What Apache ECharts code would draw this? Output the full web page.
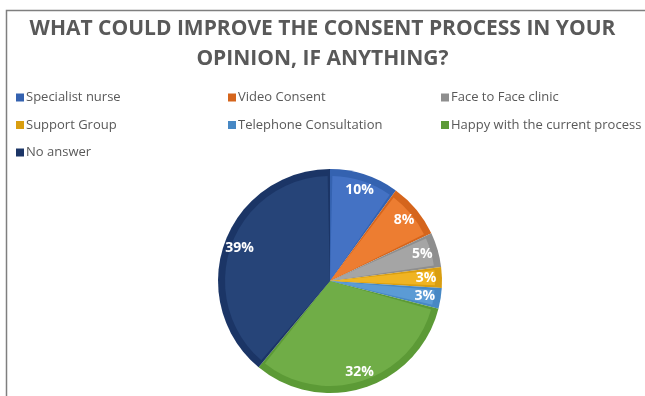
<!DOCTYPE html>
<html>
<head>
<meta charset="utf-8">
<script src="https://cdn.jsdelivr.net/npm/echarts@6/dist/echarts.min.js"></script>
<style>html,body{margin:0;padding:0;background:#fff}#c{width:645px;height:396px}</style>
</head>
<body>
<div id="c"></div>
<script>
var titleText = 'WHAT COULD IMPROVE THE CONSENT PROCESS IN YOUR\nOPINION, IF ANYTHING?';
var categories = ['Specialist nurse', 'Video Consent', 'Face to Face clinic', 'Support Group', 'Telephone Consultation', 'Happy with the current process', 'No answer'];
var values = [10, 8, 5, 3, 3, 32, 39];
var colors = ['#4472C4', '#ED7D31', '#A5A5A5', '#F0B422', '#5B9BD5', '#70AD47', '#264478'];
var rimColors = ['#3462B0', '#D5651C', '#8E8E8E', '#D99E10', '#4788C4', '#5C9A36', '#1B3566'];
var legendCols = [
  ['Specialist nurse', 'Support Group', 'No answer'],
  ['Video Consent', 'Telephone Consultation'],
  ['Face to Face clinic', 'Happy with the current process']
];

var chart = echarts.init(document.getElementById('c'), null, {renderer: 'canvas'});
var font = '"Open Sans", sans-serif';
function mk(col) { return categories.map(function (n, i) { return {name: n, value: values[i], itemStyle: {color: col[i]}}; }); }
var legendLeft = [11, 223, 436];
var legends = legendCols.map(function (d, k) {
  return {
    data: d, orient: 'vertical', left: legendLeft[k], top: 86, itemGap: 14.5,
    itemWidth: 8, itemHeight: 8, icon: 'rect', selectedMode: false,
    textStyle: {fontFamily: font, fontSize: 13, color: '#595959', padding: [0, 0, 0, -3]}
  };
});
chart.setOption({
  animation: false,
  title: {
    text: titleText, left: 'center', top: 9, itemGap: 0,
    textStyle: {fontFamily: font, fontSize: 21, fontWeight: 'bold', color: '#595959', lineHeight: 30}
  },
  legend: legends,
  graphic: [{
    type: 'rect', shape: {x: 6.5, y: 10.5, width: 800, height: 600},
    style: {fill: null, stroke: '#7f7f7f', lineWidth: 1.5}, silent: true
  }],
  series: [
    {
      type: 'pie', center: [330, 281], radius: [0, 112], startAngle: 90, clockwise: true,
      data: mk(rimColors), label: {show: false}, labelLine: {show: false}, silent: true
    },
    {
      type: 'pie', center: [330, 281], radius: [0, 105], startAngle: 90, clockwise: true, padAngle: 2.6,
      data: mk(colors), label: {show: false}, labelLine: {show: false}, silent: true
    },
    {
      type: 'pie', center: [330, 281], radius: [74, 112], startAngle: 90, clockwise: true,
      data: categories.map(function (n, i) { return {name: n, value: values[i], itemStyle: {color: 'rgba(0,0,0,0)'}}; }),
      label: {show: true, position: 'inside', formatter: '{d}%', fontFamily: font, fontSize: 14, fontWeight: 'bold', color: '#fff'},
      labelLine: {show: false}, silent: true, emphasis: {disabled: true}
    }
  ]
});
</script>
</body>
</html>
